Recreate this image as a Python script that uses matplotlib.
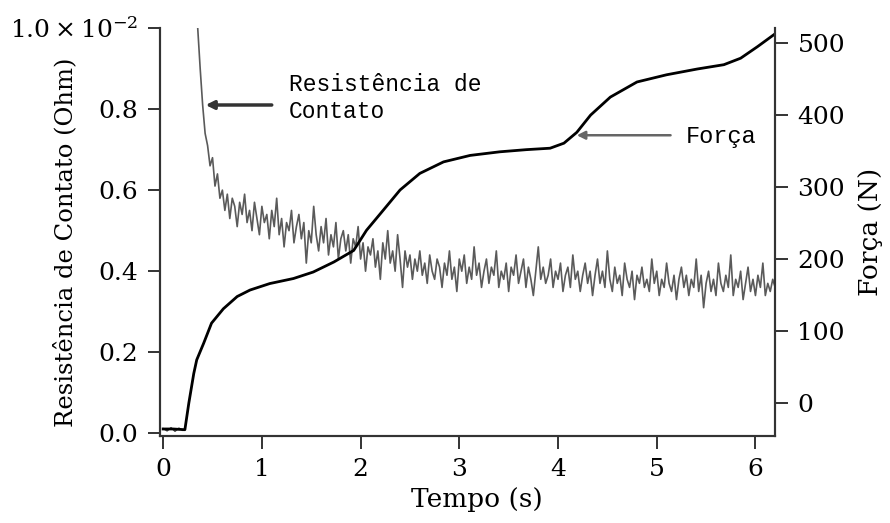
import numpy as np
import matplotlib
matplotlib.use("Agg")
import matplotlib.pyplot as plt

plt.rcParams['font.family'] = ['DejaVu Serif']
plt.rcParams['mathtext.fontset'] = 'dejavuserif'

# contact resistance (units of 1e-2 Ohm), sampled every 0.025 s from 0.35 s
res_t0 = 0.35
res_dt = 0.025
res_vals = [
    1.00, 0.90, 0.81, 0.74, 0.71, 0.66, 0.68, 0.61, 0.64, 0.58,
    0.60, 0.55, 0.59, 0.53, 0.58, 0.56, 0.51, 0.57, 0.54, 0.59,
    0.52, 0.55, 0.50, 0.57, 0.53, 0.49, 0.56, 0.52, 0.54, 0.48,
    0.55, 0.51, 0.58, 0.49, 0.53, 0.46, 0.52, 0.50, 0.55, 0.47,
    0.51, 0.54, 0.48, 0.52, 0.42, 0.50, 0.47, 0.56, 0.49, 0.45,
    0.51, 0.47, 0.53, 0.44, 0.49, 0.46, 0.52, 0.43, 0.48, 0.50,
    0.45, 0.49, 0.42, 0.48, 0.46, 0.51, 0.43, 0.47, 0.40, 0.46,
    0.44, 0.48, 0.41, 0.45, 0.38, 0.47, 0.43, 0.50, 0.42, 0.45,
    0.40, 0.49, 0.43, 0.36, 0.45, 0.41, 0.44, 0.38, 0.43, 0.40,
    0.45, 0.39, 0.42, 0.37, 0.44, 0.40, 0.38, 0.43, 0.41, 0.36,
    0.42, 0.39, 0.45, 0.38, 0.41, 0.35, 0.43, 0.40, 0.44, 0.37,
    0.41, 0.38, 0.46, 0.39, 0.42, 0.36, 0.40, 0.43, 0.37, 0.41,
    0.39, 0.45, 0.36, 0.40, 0.38, 0.42, 0.35, 0.41, 0.39, 0.44,
    0.37, 0.40, 0.43, 0.36, 0.41, 0.38, 0.34, 0.40, 0.46, 0.38,
    0.41, 0.37, 0.39, 0.43, 0.36, 0.40, 0.38, 0.42, 0.35, 0.39,
    0.41, 0.36, 0.44, 0.38, 0.40, 0.35, 0.39, 0.42, 0.37, 0.40,
    0.34, 0.39, 0.43, 0.37, 0.40, 0.36, 0.45, 0.38, 0.35, 0.41,
    0.37, 0.39, 0.34, 0.42, 0.38, 0.36, 0.40, 0.33, 0.39, 0.37,
    0.41, 0.36, 0.38, 0.35, 0.43, 0.37, 0.40, 0.34, 0.38, 0.36,
    0.42, 0.37, 0.35, 0.39, 0.33, 0.38, 0.41, 0.36, 0.39, 0.34,
    0.38, 0.36, 0.43, 0.35, 0.39, 0.31, 0.37, 0.40, 0.35, 0.38,
    0.34, 0.42, 0.37, 0.35, 0.39, 0.36, 0.44, 0.34, 0.38, 0.36,
    0.40, 0.33, 0.37, 0.41, 0.35, 0.38, 0.34, 0.39, 0.36, 0.42,
    0.34, 0.37, 0.35, 0.38, 0.36,
]
# resistance before contact (near zero)
pre_t = [0.0, 0.04, 0.08, 0.12, 0.16, 0.20, 0.22]
pre_vals = [0.012, 0.006, 0.014, 0.005, 0.013, 0.007, 0.010]

# force (N)
force_t = [0.0, 0.10, 0.22, 0.26, 0.31, 0.34, 0.41, 0.49, 0.61, 0.75, 0.88,
           1.08, 1.32, 1.52, 1.73, 1.93, 2.06, 2.20, 2.40, 2.60, 2.84, 3.11,
           3.41, 3.68, 3.92, 4.06, 4.19, 4.33, 4.53, 4.80, 5.10, 5.41, 5.68,
           5.85, 6.02, 6.20]
force_vals = [-36, -36, -37, 0, 41, 60, 83, 111, 131, 148, 157,
              166, 173, 182, 196, 212, 240, 263, 296, 319, 335, 344,
              349, 352, 354, 361, 376, 400, 425, 446, 456, 464, 470,
              479, 495, 513]

res_t = res_t0 + res_dt * np.arange(len(res_vals))

fig = plt.figure(figsize=(8.9, 5.23), dpi=100)
ax = fig.add_axes([0.18, 0.166, 0.691, 0.7805])
ax2 = ax.twinx()

ax.plot(pre_t, pre_vals, color='#404040', lw=1.0)
ax.plot(res_t, res_vals, color='#5a5a5a', lw=1.2)
ax2.plot(force_t, force_vals, color='black', lw=2.0)

ax.set_xlim(-0.03, 6.2)
ax.set_ylim(-0.007, 1.0)
ax2.set_ylim(-46, 521)

ax.set_xticks([0, 1, 2, 3, 4, 5, 6])
ax.set_yticks([0.0, 0.2, 0.4, 0.6, 0.8, 1.0])
ax.set_yticklabels(['0.0', '0.2', '0.4', '0.6', '0.8', r'$1.0\times10^{-2}$'])
ax2.set_yticks([0, 100, 200, 300, 400, 500])

for a in (ax, ax2):
    a.spines['top'].set_visible(False)
    for s in a.spines.values():
        s.set_linewidth(1.5)
        s.set_color('#333333')
    a.tick_params(direction='out', length=9, width=1.4, pad=7,
                  labelsize=18, colors='#333333', labelcolor='black')

ax.set_xlabel('Tempo (s)', fontsize=19)
ax.xaxis.set_label_coords(0.515, -0.125)
ax.set_ylabel('Resistência de Contato (Ohm)', fontsize=17.5)
ax.yaxis.set_label_coords(-0.135, 0.475)
ax2.set_ylabel('Força (N)', fontsize=19)
ax2.yaxis.set_label_coords(1.135, 0.5)

# labels with arrows
ax.annotate('', xy=(0.43, 0.81), xytext=(1.10, 0.81),
            arrowprops=dict(arrowstyle='-|>', color='#333333', lw=2.5,
                            mutation_scale=12, shrinkA=0, shrinkB=0))
ax.text(1.27, 0.827, 'Resistência de\nContato', fontsize=16.5,
        family='Liberation Mono', va='center', ha='left', linespacing=1.2)

ax2.annotate('', xy=(4.19, 372), xytext=(5.14, 372),
             arrowprops=dict(arrowstyle='-|>', color='#666666', lw=1.8,
                             mutation_scale=12, shrinkA=0, shrinkB=0))
ax2.text(5.29, 370, 'Força', fontsize=17, family='Liberation Mono',
         va='center', ha='left')

fig.savefig('out.png', dpi=100)
